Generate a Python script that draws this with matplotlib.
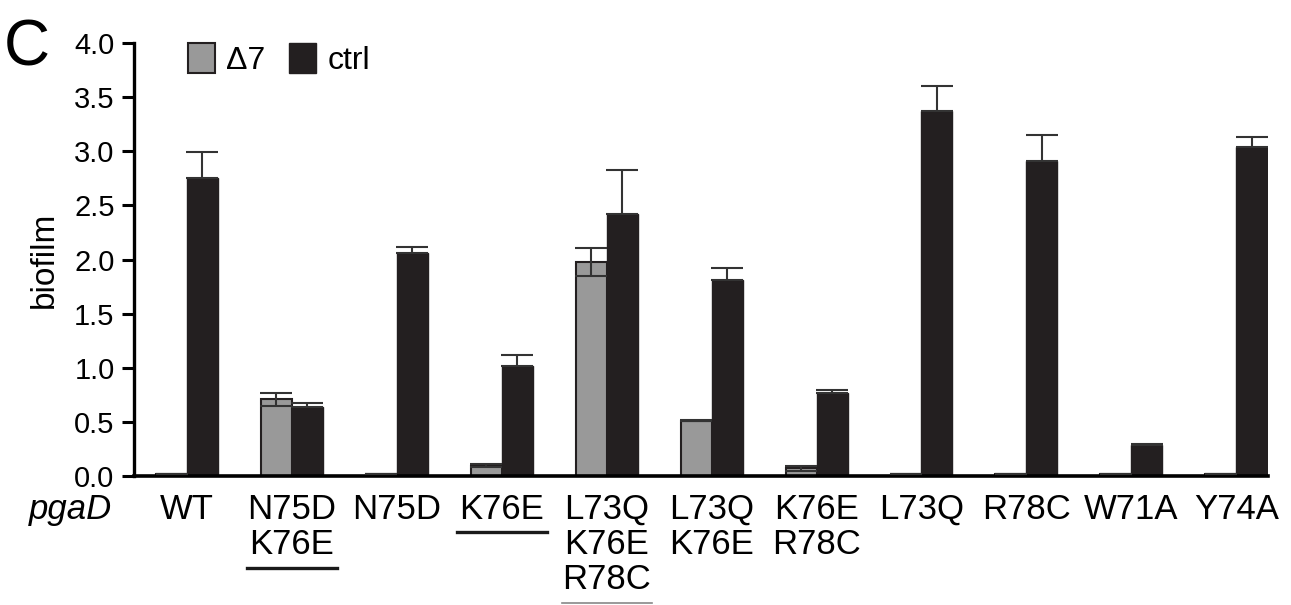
import matplotlib
matplotlib.use("Agg")
import matplotlib.pyplot as plt
import matplotlib.transforms as mtransforms
import numpy as np

plt.rcParams['font.family'] = ['Liberation Sans', 'DejaVu Sans']

# data
labels = ["WT", "N75D\nK76E", "N75D", "K76E", "L73Q\nK76E\nR78C", "L73Q\nK76E",
          "K76E\nR78C", "L73Q", "R78C", "W71A", "Y74A"]
delta7 = [0.02, 0.71, 0.02, 0.095, 1.98, 0.51, 0.07, 0.02, 0.02, 0.02, 0.02]
delta7_err = [0, 0.06, 0, 0.015, 0.13, 0.005, 0.02, 0, 0, 0, 0]
ctrl = [2.75, 0.64, 2.06, 1.02, 2.42, 1.81, 0.77, 3.37, 2.91, 0.29, 3.04]
ctrl_err = [0.24, 0.03, 0.06, 0.10, 0.41, 0.11, 0.02, 0.23, 0.24, 0.005, 0.09]
# underlined groups: index -> (line width, colour)
underlined = {1: (2.4, "#1a1a1a"), 3: (2.4, "#1a1a1a"), 4: (1.2, "#888888")}

GRAY = "#999999"
DARK = "#231f20"
width = 0.295

fig = plt.figure(figsize=(12.91, 6.05), dpi=100)
ax = fig.add_axes([0.1038, 0.2132, 0.8782, 0.7157])

x = np.arange(len(labels))
ax.bar(x - width / 2, delta7, width, color=GRAY, edgecolor=DARK, linewidth=1.5,
       label="Δ7", zorder=2)
ax.bar(x + width / 2, ctrl, width, color=DARK, edgecolor=DARK, linewidth=1.0,
       label="ctrl", zorder=2)
ax.errorbar(x - width / 2, delta7, yerr=delta7_err, fmt="none", ecolor="#333333",
            elinewidth=1.5, capsize=11.5, capthick=1.5, zorder=3)
ax.errorbar(x + width / 2, ctrl, yerr=[np.zeros(len(ctrl)), ctrl_err], fmt="none",
            ecolor="#333333", elinewidth=1.5, capsize=11.5, capthick=1.5, zorder=3)

ax.set_xlim(-0.505, 10.3)
ax.set_ylim(0, 4.0)
ax.set_yticks(np.arange(0, 4.01, 0.5))
ax.set_yticklabels([f"{v:.1f}" for v in np.arange(0, 4.01, 0.5)])
ax.set_xticks(x)
ax.set_xticklabels(labels, linespacing=1.08)
ax.tick_params(axis="x", length=0, pad=12, labelsize=25)
ax.tick_params(axis="y", length=9, width=2.2, pad=5, labelsize=21, direction="out")
for s in ["top", "right"]:
    ax.spines[s].set_visible(False)
ax.spines["left"].set_linewidth(2.4)
ax.spines["bottom"].set_linewidth(2.6)
ax.set_ylabel("biofilm", fontsize=24, labelpad=10)

ax.legend(loc="upper left", bbox_to_anchor=(0.036, 1.03), ncol=2, frameon=False,
          fontsize=23, handlelength=0.85, handleheight=1.1, handletextpad=0.35,
          columnspacing=0.75, borderaxespad=0)

# underlines below selected labels
trans = mtransforms.blended_transform_factory(ax.transData, fig.transFigure)
nlines = {i: labels[i].count("\n") + 1 for i in underlined}
for i, (lw, col) in underlined.items():
    yy = 1 - min(532 + 36 * (nlines[i] - 1), 603) / 605
    ax.plot([i - 0.43, i + 0.43], [yy, yy], transform=trans, color=col,
            linewidth=lw, clip_on=False)

fig.text(0.022, 1 - 519 / 605, "pgaD", fontsize=25, style="italic")
fig.text(0.003, 1 - 65 / 605, "C", fontsize=46)

fig.savefig("out.png", dpi=100)
